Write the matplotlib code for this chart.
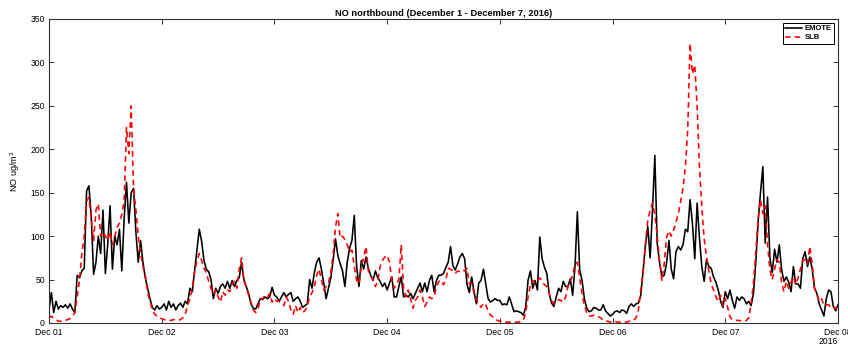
import numpy as np
import pandas as pd
import matplotlib
matplotlib.use("Agg")
import matplotlib.pyplot as plt
import matplotlib.dates as mdates

plt.rcParams['font.family'] = ['Liberation Sans', 'DejaVu Sans']
plt.rcParams['mathtext.default'] = 'regular'

# 30-minute values, one list of 48 per day (00:00 ... 23:30)
emote_dec01 = [15,35,12,25,16,20,18,21,17,22,16,12, 55,52,60,63,152,158,122,56, 70,100,80,130,57,90,135,62,
               100,90,108,60,120,162,115,150, 155,105,70,95,70,52,40,28, 18,15,20,16]
emote_dec02 = [18,22,15,25,18,22,15,20,23,18,25,22, 40,36,60,84,108,94,72,62, 59,50,28,40,34,42,45,40,
               48,40,49,42,49,52,70,50, 42,34,22,17,16,22,28,27, 30,28,30,41]
emote_dec03 = [32,30,25,30,35,30,33,35,25,28,30,25, 18,20,22,50,40,58,70,75, 62,46,28,40,52,72,97,78,
               68,60,42,70,86,95,124,65, 42,72,62,76,63,55,49,60, 52,48,42,46]
emote_dec04 = [38,46,53,30,30,42,53,30,32,30,34,28, 34,40,46,36,46,36,49,55, 36,49,55,55,57,64,70,88,
               66,61,68,76,80,74,45,35, 53,36,22,46,49,62,45,28, 24,26,28,26]
emote_dec05 = [26,21,22,21,30,22,13,14,13,12,9,18, 49,60,40,49,38,99,74,64, 57,34,23,19,30,40,36,48,
               42,42,51,32,65,128,61,49, 28,17,13,14,18,17,15,15, 21,14,11,8]
emote_dec06 = [10,13,14,12,15,14,11,19,22,19,22,23, 32,60,90,111,75,130,193,92, 70,53,55,69,95,62,51,82,
               88,84,90,108,105,142,115,74, 138,98,65,48,73,65,63,53, 47,38,25,18]
emote_dec07 = [36,28,38,26,17,30,26,30,28,22,25,20, 34,70,118,150,180,92,145,75, 58,85,70,90,61,48,53,47,
               36,65,45,45,40,74,82,65, 76,62,40,34,22,15,8,28, 38,36,19,14]
emote_dec08 = [21]

slb_dec01 = [6,8,5,4,2,2,2,3,4,5,8,12, 30,50,80,100,140,145,120,95, 130,137,100,105,100,95,105,90,
             100,110,115,125,140,225,195,250, 155,130,100,80,65,55,35,25, 15,10,8,6]
slb_dec02 = [5,4,3,3,3,4,3,3,4,6,10,20, 28,40,58,72,80,72,63,58, 48,40,33,38,30,24,36,32,
             38,36,45,48,40,62,75,48, 42,32,24,15,12,16,28,28, 32,30,34,24]
slb_dec03 = [28,25,25,22,20,30,25,15,10,20,12,18, 12,14,20,30,35,42,55,62, 50,38,42,46,58,78,110,126,
             98,100,96,90,82,84,65,49, 45,65,75,88,60,54,50,42, 48,65,72,76]
slb_dec04 = [78,70,49,40,45,50,90,40,30,38,28,17, 26,30,38,30,19,24,30,28, 30,42,48,49,44,50,63,62,
             60,57,60,59,61,60,63,45, 46,34,27,21,18,23,21,14, 9,7,4,3]
slb_dec05 = [2,2,1,1,1,1,1,1,1,2,3,12, 30,44,49,46,49,52,48,44, 42,34,26,22,24,27,26,24,
             30,42,48,55,68,70,52,34, 20,12,8,8,9,7,7,6, 3,2,2,1]
slb_dec06 = [2,2,1,1,1,1,1,2,2,3,6,15, 38,58,92,118,130,138,125,100, 72,49,68,99,106,100,107,116,
             126,140,155,180,222,322,287,297, 250,180,134,97,76,60,45,38, 30,25,32,20]
slb_dec07 = [28,18,7,4,3,3,3,2,2,3,6,22, 46,82,120,142,126,135,90,61, 50,62,73,70,46,36,48,40,
             47,53,44,52,62,72,73,68, 88,68,40,34,25,28,20,21, 21,18,19,16]
slb_dec08 = [23]

emote = (emote_dec01 + emote_dec02 + emote_dec03 + emote_dec04 + emote_dec05 +
         emote_dec06 + emote_dec07 + emote_dec08)
slb = (slb_dec01 + slb_dec02 + slb_dec03 + slb_dec04 + slb_dec05 +
       slb_dec06 + slb_dec07 + slb_dec08)
times = pd.date_range('2016-12-01 00:00', periods=len(emote), freq='30min')

title = 'NO northbound (December 1 - December 7, 2016)'
ylabel = 'NO ug/m$^3$'

fig = plt.figure(figsize=(8.48, 3.46), dpi=100)
ax = fig.add_axes([49/848, 23/346, 789/848, 304/346])

ax.plot(times, emote, color='black', lw=1.15, label='EMOTE')
ax.plot(times, slb, color='#ff0000', lw=1.15, ls=(0, (3.5, 2.5)), label='SLB')

ax.set_xlim(pd.Timestamp('2016-12-01'), pd.Timestamp('2016-12-08'))
ax.set_ylim(0, 350)
ax.set_yticks(np.arange(0, 351, 50))
ax.xaxis.set_major_locator(mdates.DayLocator())
ax.xaxis.set_major_formatter(mdates.DateFormatter('%b %d'))

ax.tick_params(direction='in', top=True, right=True, length=3.5, width=0.7,
               labelsize=6.2, color='#333333')
ax.tick_params(axis='x', pad=3.5)
ax.tick_params(axis='y', pad=3)
for s in ax.spines.values():
    s.set_color('#333333')
    s.set_linewidth(0.8)

ax.set_title(title, fontsize=6.7, fontweight='bold', pad=2.5)
ax.set_ylabel(ylabel, fontsize=6.5, labelpad=6)
fig.text(838/848, 1 - 342/346, '2016', ha='right', va='center', fontsize=6.2)

leg = ax.legend(loc='upper right', prop={'size': 5.5, 'weight': 'bold'}, fancybox=False,
                edgecolor='black', framealpha=1, handlelength=2.2, borderaxespad=0.5,
                borderpad=0.3, labelspacing=0.2, handletextpad=0.4)
leg.get_frame().set_linewidth(0.7)

fig.savefig('out.png', dpi=100)
